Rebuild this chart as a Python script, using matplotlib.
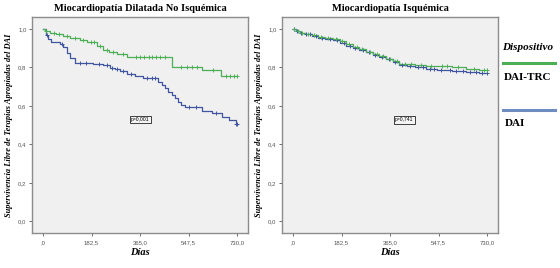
import numpy as np
import matplotlib
matplotlib.use("Agg")
import matplotlib.pyplot as plt

# ---------------- data ----------------
x_ticks = [0, 182.5, 365.0, 547.5, 730.0]
x_ticklabels = [",0", "182,5", "365,0", "547,5", "730,0"]
y_ticks = [0.0, 0.2, 0.4, 0.6, 0.8, 1.0]
y_ticklabels = ["0,0", "0,2", "0,4", "0,6", "0,8", "1,0"]

titles = ["Miocardiopatía Dilatada No Isquémica", "Miocardiopatía Isquémica"]
p_values = ["p=0,001", "p=0,741"]

# Left panel: dilated non-ischemic
dnl_trc_t = [0, 8, 26, 50, 76, 100, 139, 165, 202, 226, 250, 277, 315, 485, 600, 670]
dnl_trc_s = [1.0, 0.99, 0.98, 0.975, 0.965, 0.955, 0.945, 0.93, 0.91, 0.89, 0.88, 0.87, 0.855, 0.80, 0.787, 0.757]
dnl_trc_cens = [10, 40, 60, 90, 120, 150, 180, 190, 215, 240, 265, 300, 350, 365, 380, 400, 410, 425, 440, 460, 520, 540, 560, 580, 640, 690, 705, 720, 730]

dnl_dai_t = [0, 10, 20, 30, 64, 76, 89, 100, 120, 189, 226, 252, 270, 290, 315, 345, 375, 433, 446, 459, 472, 484, 496, 508, 520, 534, 597, 635, 672, 700, 725]
dnl_dai_s = [1.0, 0.97, 0.95, 0.934, 0.922, 0.908, 0.873, 0.848, 0.825, 0.82, 0.814, 0.796, 0.79, 0.783, 0.765, 0.755, 0.744, 0.726, 0.71, 0.692, 0.675, 0.657, 0.64, 0.622, 0.607, 0.593, 0.576, 0.565, 0.544, 0.527, 0.506]
dnl_dai_cens = [15, 70, 140, 160, 210, 240, 260, 280, 300, 330, 390, 410, 420, 550, 575, 650, 725, 730]

# Right panel: ischemic
isq_trc_t = [0, 10, 25, 45, 70, 95, 120, 150, 175, 200, 225, 250, 275, 300, 325, 350, 375, 400, 430, 460, 500, 540, 600, 650, 700]
isq_trc_s = [1.0, 0.99, 0.98, 0.975, 0.968, 0.96, 0.953, 0.946, 0.935, 0.92, 0.908, 0.895, 0.882, 0.87, 0.858, 0.845, 0.832, 0.82, 0.82, 0.815, 0.81, 0.805, 0.80, 0.79, 0.785]
isq_trc_cens = [5, 20, 35, 55, 80, 105, 130, 160, 185, 210, 240, 260, 290, 315, 340, 365, 390, 420, 445, 480, 520, 560, 580, 620, 680, 720, 730]

isq_dai_t = [0, 10, 25, 45, 70, 95, 120, 150, 175, 200, 225, 250, 275, 300, 325, 350, 375, 400, 430, 460, 500, 540, 600, 650, 700]
isq_dai_s = [1.0, 0.99, 0.98, 0.972, 0.963, 0.955, 0.947, 0.94, 0.928, 0.91, 0.9, 0.89, 0.878, 0.866, 0.855, 0.842, 0.828, 0.815, 0.805, 0.80, 0.79, 0.785, 0.78, 0.775, 0.77]
isq_dai_cens = [5, 15, 30, 50, 65, 85, 110, 140, 165, 190, 215, 235, 265, 285, 310, 335, 360, 385, 410, 440, 470, 490, 515, 530, 555, 590, 615, 640, 665, 690, 710, 730]

END = 730

# ---------------- style ----------------
GREEN = "#4daf55"
BLUE = "#3f55a0"
LEG_BLUE = "#6f8dc0"
TICK_GRAY = "#555555"
SPINE = "#8c8c8c"
SERIF = ["Liberation Serif", "DejaVu Serif"]
SANS = ["Liberation Sans", "DejaVu Sans"]

fig = plt.figure(figsize=(5.6, 2.68), dpi=100)
fig.patch.set_facecolor("white")

ax_pos = [[32/560, 35/268, 216/560, 216/268],
          [282/560, 35/268, 216/560, 216/268]]
p_pos = [(365, 0.53), (418, 0.527)]


def step_line(ax, t, s, cens, color):
    tt = list(t) + [END]
    ss = list(s) + [s[-1]]
    ax.step(tt, ss, where="post", color=color, lw=0.9, zorder=3)
    idx = np.searchsorted(np.array(t), np.array(cens), side="right") - 1
    cy = np.array(s)[idx]
    ax.plot(cens, cy, linestyle="none", marker="+", ms=2.8, mew=0.7,
            color=color, zorder=4)


series = [
    [(dnl_trc_t, dnl_trc_s, dnl_trc_cens, GREEN), (dnl_dai_t, dnl_dai_s, dnl_dai_cens, BLUE)],
    [(isq_trc_t, isq_trc_s, isq_trc_cens, GREEN), (isq_dai_t, isq_dai_s, isq_dai_cens, BLUE)],
]

for i in range(2):
    ax = fig.add_axes(ax_pos[i])
    ax.set_facecolor("#f0f0f0")
    for sp in ax.spines.values():
        sp.set_color(SPINE)
        sp.set_linewidth(1.0)
    for (t, s, c, col) in series[i][::-1]:
        step_line(ax, t, s, c, col)
    ax.set_xlim(-41.4, 771.3)
    ax.set_ylim(-0.06, 1.062)
    ax.set_xticks(x_ticks)
    ax.set_xticklabels(x_ticklabels)
    ax.set_yticks(y_ticks)
    ax.set_yticklabels(y_ticklabels)
    ax.tick_params(axis="both", direction="out", length=2.5, width=0.6,
                   color=TICK_GRAY, labelsize=4.3, labelcolor=TICK_GRAY, pad=1.5)
    ax.tick_params(axis="x", pad=2.5)
    for lab in ax.get_xticklabels() + ax.get_yticklabels():
        lab.set_family(SANS)
    ax.set_title(titles[i], fontsize=7.5, fontweight="bold", family=SERIF, pad=4)
    ax.set_xlabel("Días", fontsize=7.5, fontweight="bold", style="italic",
                  family=SERIF, labelpad=2)
    ax.set_ylabel("Supervivencia Libre de Terapias Apropiadas del DAI",
                  fontsize=6, fontweight="bold", style="italic", family=SERIF,
                  labelpad=4)
    ax.text(p_pos[i][0], p_pos[i][1], p_values[i],
            fontsize=3.6, family=SANS, ha="center", va="center", zorder=5,
            bbox=dict(boxstyle="square,pad=0.25", fc="#f4f4f4", ec="#222222", lw=0.6))

# ---------------- legend ----------------
fig.text(528/560, 1 - 48/268, "Dispositivo", fontsize=8, fontweight="bold",
         style="italic", family=SERIF, ha="center", va="center")
fig.add_artist(plt.Line2D([503/560, 555/560], [1 - 63/268, 1 - 63/268],
                          color=GREEN, lw=2.2, transform=fig.transFigure))
fig.text(528/560, 1 - 77/268, "DAI-TRC", fontsize=8, fontweight="bold",
         family=SERIF, ha="center", va="center")
fig.add_artist(plt.Line2D([503/560, 555/560], [1 - 110/268, 1 - 110/268],
                          color=LEG_BLUE, lw=2.2, transform=fig.transFigure))
fig.text(505/560, 1 - 124/268, "DAI", fontsize=8, fontweight="bold",
         family=SERIF, ha="left", va="center")

fig.savefig("out.png", dpi=100, facecolor="white")
